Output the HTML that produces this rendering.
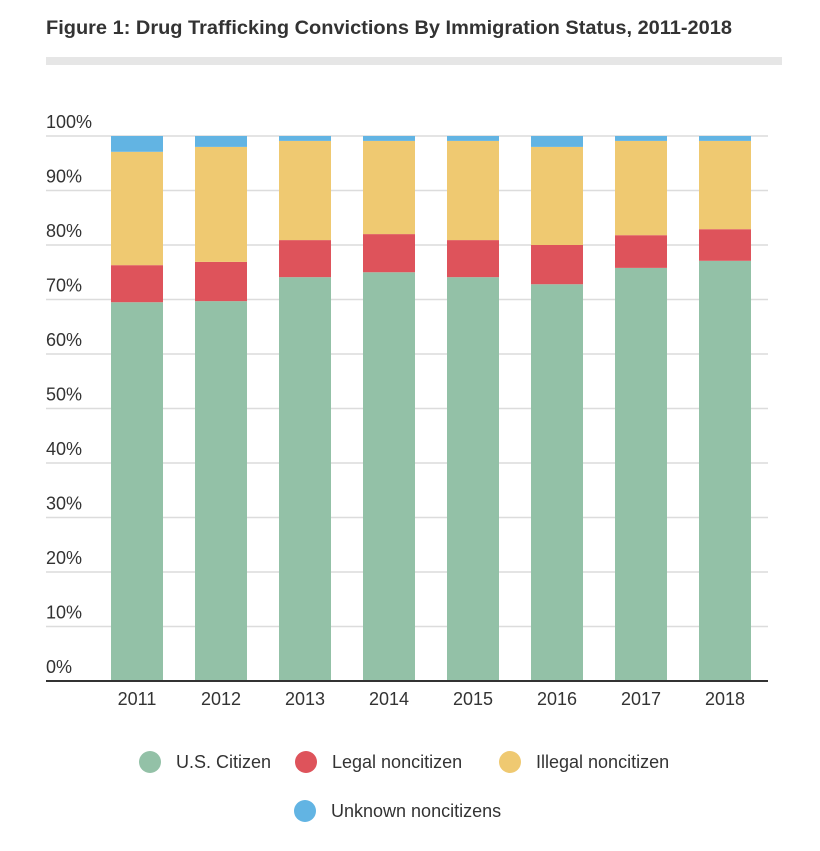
<!DOCTYPE html>
<html><head><meta charset="utf-8"><style>
body{margin:0;background:#fff;font-family:"Liberation Sans",sans-serif;}
</style></head><body>
<svg width="820" height="846" xmlns="http://www.w3.org/2000/svg">
<text x="46" y="34" font-size="19" font-weight="bold" fill="#333" textLength="686" lengthAdjust="spacingAndGlyphs">Figure 1: Drug Trafficking Convictions By Immigration Status, 2011-2018</text>
<rect x="46" y="57" width="736" height="8" fill="#e6e6e6"/>
<g id="grid"></g><g id="bars"></g><g id="xl"></g>
<line x1="46" y1="681" x2="768" y2="681" stroke="#333" stroke-width="2"/>
<g id="legend"></g>
</svg>
<script>
const years=["2011","2012","2013","2014","2015","2016","2017","2018"];
const citizen=[69.5,69.7,74.1,75.0,74.1,72.8,75.8,77.1];
const legal=[6.8,7.2,6.8,7.0,6.8,7.2,6.0,5.8];
const illegal=[20.8,21.1,18.2,17.1,18.2,18.0,17.3,16.2];
const unknown=[2.9,2.0,0.9,0.9,0.9,2.0,0.9,0.9];
const ticks=[0,10,20,30,40,50,60,70,80,90,100];
const series=[{n:"U.S. Citizen",c:"#93c1a7",v:citizen},{n:"Legal noncitizen",c:"#de535b",v:legal},{n:"Illegal noncitizen",c:"#efc971",v:illegal},{n:"Unknown noncitizens",c:"#62b4e3",v:unknown}];
const NS="http://www.w3.org/2000/svg";
const y=v=>681-v*5.45;
const x=i=>137+i*84;
function mk(t,a,p){const e=document.createElementNS(NS,t);for(const k in a)e.setAttribute(k,a[k]);p.appendChild(e);return e;}
const g=document.getElementById('grid');
ticks.forEach(t=>{
 if(t>0){const l=mk('line',{x1:46,x2:768,y1:y(t),y2:y(t),stroke:'#dcdcdc','stroke-width':1.5},g);
 
 }
 const tx=mk('text',{x:46,y:y(t)-8,'font-size':18,fill:'#333'},g);tx.textContent=t+'%';
 
 
});
const b=document.getElementById('bars');
years.forEach((yr,i)=>{
 let acc=0;
 series.forEach((s,j)=>{
  const v=s.v[i];
  const r=mk('rect',{x:x(i)-26,width:52,y:y(acc+v),height:v*5.45,fill:s.c},b);
  
  
  acc+=v;
 });
 const t=mk('text',{x:x(i),y:705,'font-size':18,fill:'#333','text-anchor':'middle'},document.getElementById('xl'));
 t.textContent=yr;
 
 
});
const lg=document.getElementById('legend');
const pos=[[150,762],[306,762],[510,762],[305,811]];
series.forEach((s,j)=>{
 const c=mk('circle',{cx:pos[j][0],cy:pos[j][1],r:11,fill:s.c},lg);
 
 
 const t=mk('text',{x:pos[j][0]+26,y:pos[j][1]+6,'font-size':18,fill:'#333'},lg);
 t.textContent=s.n;
 
 
});
</script>
</body></html>
